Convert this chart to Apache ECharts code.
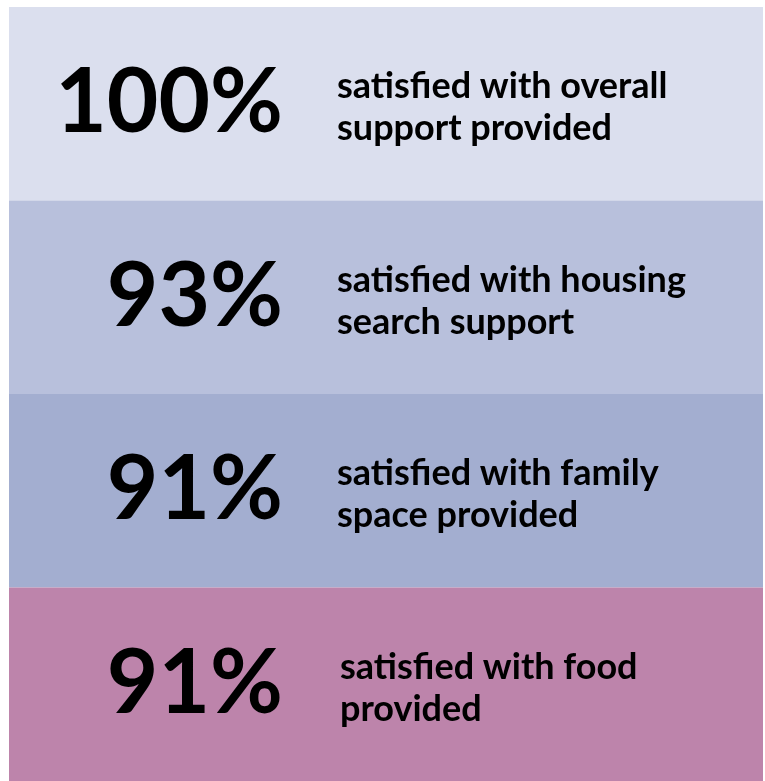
<!DOCTYPE html>
<html>
<head>
<meta charset="utf-8">
<script src="https://cdn.jsdelivr.net/npm/echarts@6/dist/echarts.min.js"></script>
<style>
  html, body { margin: 0; padding: 0; background: #fff; }
  #chart { width: 765px; height: 781px; }
</style>
</head>
<body>
<div id="chart"></div>
<script>
// survey results
var categories = ["overall", "housing", "family", "food"];
var percentValues = [100, 93, 91, 91];
var descriptions = [
  "satisfied with overall\nsupport provided",
  "satisfied with housing\nsearch support",
  "satisfied with family\nspace provided",
  "satisfied with food\nprovided"
];
var bandColors = ["#dbdfee", "#b8c0dc", "#a3aed0", "#bd84ab"];

var chart = echarts.init(document.getElementById("chart"));

var fontFamily = "Lato, 'Open Sans', sans-serif";

var option = {
  backgroundColor: "#fff",
  animation: false,
  grid: { left: 9, right: 2, top: 7, height: 780 },
  xAxis: { type: "value", min: 0, max: 1, show: false },
  yAxis: { type: "category", inverse: true, data: categories, show: false },
  series: [
    {
      // colour bands with the big percentage
      type: "bar",
      barWidth: "100%",
      barGap: "-100%",
      data: categories.map(function (c, i) {
        return { value: 1, itemStyle: { color: bandColors[i] } };
      }),
      label: {
        show: true,
        position: [274, "50%"],
        align: "right",
        verticalAlign: "middle",
        color: "#000",
        fontFamily: fontFamily,
        fontWeight: "bold",
        fontSize: 89,
        formatter: function (p) {
          return percentValues[p.dataIndex] + "%";
        }
      }
    },
    {
      // description text
      type: "bar",
      barWidth: "100%",
      barGap: "-100%",
      data: categories.map(function (c, i) {
        return {
          value: 1,
          itemStyle: { color: "rgba(0,0,0,0)" },
          label: { position: [i === 3 ? 331 : 328, "52%"] }
        };
      }),
      label: {
        show: true,
        align: "left",
        verticalAlign: "middle",
        color: "#000",
        fontFamily: fontFamily,
        fontWeight: "bold",
        fontSize: 36,
        lineHeight: 42,
        formatter: function (p) {
          return descriptions[p.dataIndex];
        }
      }
    }
  ]
};

chart.setOption(option);
window.addEventListener("resize", function () {
  chart.resize();
});
</script>
</body>
</html>
